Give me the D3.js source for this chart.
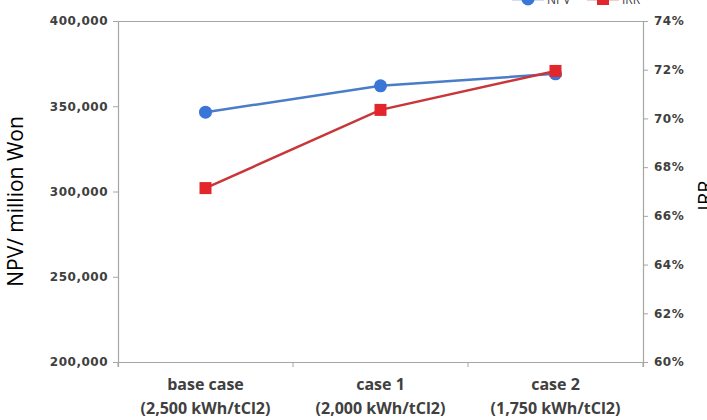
<!DOCTYPE html>
<html><head><meta charset="utf-8">
<script src="https://cdn.jsdelivr.net/npm/d3@7"></script>
<style>
body{margin:0;background:#fff;}
svg{display:block;}
</style></head>
<body>
<script>
const categories = ["base case", "case 1", "case 2"];
const categorySub = ["(2,500 kWh/tCl2)", "(2,000 kWh/tCl2)", "(1,750 kWh/tCl2)"];
const npvValues = [346500, 362000, 369000];
const irrValues = [0.6714, 0.7035, 0.7195];
const npvTicks = [200000, 250000, 300000, 350000, 400000];
const irrTicks = [0.60, 0.62, 0.64, 0.66, 0.68, 0.70, 0.72, 0.74];
const seriesNames = ["NPV", "IRR"];

const W = 707, H = 420;
const m = {left:118, right:64, top:21, bottom:58};
const svg = d3.select("body").append("svg").attr("width", W).attr("height", H);

const x = d3.scaleBand().domain(categories).range([m.left, W - m.right]);
const yL = d3.scaleLinear().domain([200000, 400000]).range([H - m.bottom, m.top]);
const yR = d3.scaleLinear().domain([0.60, 0.74]).range([H - m.bottom, m.top]);

const axisColor = "#a6a6a6";
const textColor = "#404040";
const tickFont = "DejaVu Sans, Verdana, sans-serif";

// frame top
svg.append("line").attr("x1", m.left).attr("x2", W - m.right)
  .attr("y1", m.top + 0.5).attr("y2", m.top + 0.5)
  .attr("stroke", axisColor).attr("stroke-width", 1);

const fmt = d3.format(",");
const gL = svg.append("g").attr("transform", `translate(${m.left},0)`)
  .call(d3.axisLeft(yL).tickValues(npvTicks).tickFormat(fmt).tickSize(5).tickPadding(5));
const gR = svg.append("g").attr("transform", `translate(${W - m.right},0)`)
  .call(d3.axisRight(yR).tickValues(irrTicks).tickFormat(d3.format(".0%")).tickSize(5).tickPadding(6));
const gB = svg.append("g").attr("transform", `translate(0,${H - m.bottom})`)
  .call(d3.axisBottom(x).tickValues([]).tickSizeOuter(5));

[gL, gR, gB].forEach(g => {
  g.select(".domain").attr("stroke", axisColor).attr("stroke-width", 1.2);
  g.selectAll(".tick line").attr("stroke", axisColor);
  g.selectAll(".tick text").attr("fill", textColor)
    .style("font-family", tickFont).style("font-weight", "bold")
    .style("font-size", "12px").style("letter-spacing", "0.5px");
});

// category boundary ticks on bottom axis
const bounds = categories.map(c => x(c)).concat([x(categories[categories.length-1]) + x.bandwidth()]);
svg.append("g").selectAll("line").data(bounds).join("line")
  .attr("x1", d => d).attr("x2", d => d)
  .attr("y1", H - m.bottom).attr("y2", H - m.bottom + 5)
  .attr("stroke", axisColor);

// category labels
const catG = svg.append("g");
categories.forEach((c, i) => {
  const cx = x(c) + x.bandwidth() / 2;
  const t = catG.append("text").attr("text-anchor", "middle")
    .attr("fill", textColor).style("font-family", "Open Sans, sans-serif")
    .style("font-weight", "bold").style("font-size", "16px");
  t.append("tspan").attr("x", cx).attr("y", H - m.bottom + 28).text(c);
  t.append("tspan").attr("x", cx).attr("y", H - m.bottom + 52).text(categorySub[i]);
});

// axis titles
svg.append("text").attr("transform", `translate(23,${(m.top + H - m.bottom)/2 + 10}) rotate(-90)`)
  .attr("text-anchor", "middle").attr("fill", "#000")
  .style("font-family", "Open Sans, sans-serif").style("font-size", "21px")
  .text("NPV/ million  Won");
svg.append("text").attr("transform", `translate(712,${(m.top + H - m.bottom)/2 + 4}) rotate(-90)`)
  .attr("text-anchor", "middle").attr("fill", "#000")
  .style("font-family", "Open Sans, sans-serif").style("font-size", "20px")
  .text("IRR");

const cxf = c => x(c) + x.bandwidth() / 2;
const blue = "#3a76d8", blueLine = "#4a7cc8";
const red = "#e3262b", redLine = "#c8363a";

// NPV line
svg.append("path").datum(npvValues)
  .attr("d", d3.line().x((d, i) => cxf(categories[i])).y(d => yL(d)))
  .attr("fill", "none").attr("stroke", blueLine).attr("stroke-width", 2.5);
svg.append("g").selectAll("circle").data(npvValues).join("circle")
  .attr("cx", (d, i) => cxf(categories[i])).attr("cy", d => yL(d)).attr("r", 6.5)
  .attr("fill", blue);

// IRR line
svg.append("path").datum(irrValues)
  .attr("d", d3.line().x((d, i) => cxf(categories[i])).y(d => yR(d)))
  .attr("fill", "none").attr("stroke", redLine).attr("stroke-width", 2.5);
svg.append("g").selectAll("rect").data(irrValues).join("rect")
  .attr("x", (d, i) => cxf(categories[i]) - 6).attr("y", d => yR(d) - 6)
  .attr("width", 12).attr("height", 12).attr("fill", red);

// legend (partly cut off at top, as in the reference)
const legend = svg.append("g");
const legItems = [
  {name: seriesNames[0], color: blue, line: blueLine, shape: "circle", x0: 512},
  {name: seriesNames[1], color: red, line: redLine, shape: "rect", x0: 587}
];
const ly = -1;
legItems.forEach(it => {
  legend.append("line").attr("x1", it.x0).attr("x2", it.x0 + 32)
    .attr("y1", ly).attr("y2", ly).attr("stroke", it.line).attr("stroke-width", 2.5);
  if (it.shape === "circle") {
    legend.append("circle").attr("cx", it.x0 + 16).attr("cy", ly).attr("r", 6.5).attr("fill", it.color);
  } else {
    legend.append("rect").attr("x", it.x0 + 10).attr("y", ly - 6).attr("width", 12).attr("height", 12).attr("fill", it.color);
  }
  legend.append("text").attr("x", it.x0 + 35).attr("y", ly + 5)
    .attr("fill", textColor).style("font-family", "Open Sans, sans-serif")
    .style("font-size", "12px").text(it.name);
});
</script>
</body></html>
